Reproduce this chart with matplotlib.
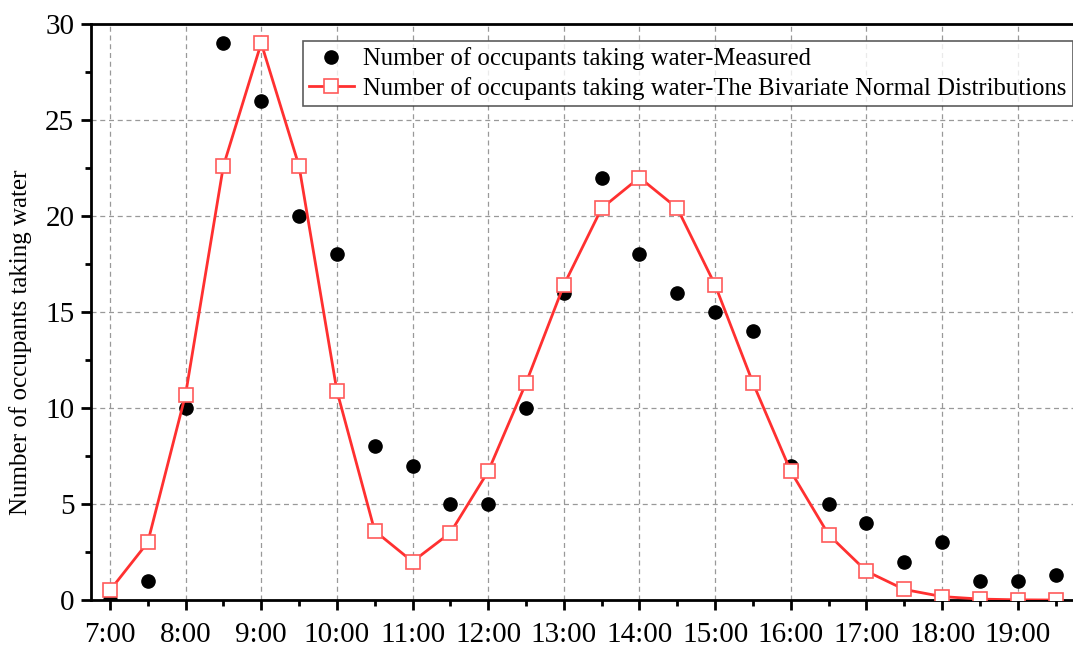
import numpy as np
import matplotlib.pyplot as plt
from matplotlib.ticker import MultipleLocator

plt.rcParams['font.family'] = ['Liberation Serif', 'DejaVu Serif']

# half-hour slots from 7:00 to 19:30, in hours
hours = np.arange(7.0, 19.51, 0.5)
measured = [0, 1, 10, 29, 26, 20, 18, 8, 7, 5, 5, 10, 16, 22, 18, 16, 15, 14,
            7, 5, 4, 2, 3, 1, 1, 1.3]
bivariate = [0.5, 3.0, 10.7, 22.6, 29.0, 22.6, 10.9, 3.6, 2.0, 3.5, 6.7, 11.3,
             16.4, 20.4, 22.0, 20.4, 16.4, 11.3, 6.7, 3.4, 1.5, 0.55, 0.18,
             0.05, 0.01, 0.0]
tick_hours = list(range(7, 20))
tick_labels = ['%d:00' % h for h in tick_hours]

fig = plt.figure(figsize=(10.73, 6.51), dpi=100)
ax = fig.add_axes([0.0848, 0.0783, 0.9152, 0.885])

ax.plot(hours, measured, 'o', color='black', markersize=9.5,
        label='Number of occupants taking water-Measured', zorder=3)
ax.plot(hours, bivariate, '-s', color='#ff3030', lw=2, markersize=10,
        markerfacecolor='white', markeredgecolor='#ff5a5a', markeredgewidth=1.2,
        label='Number of occupants taking water-The Bivariate Normal Distributions',
        zorder=4)

ax.set_xlim(6.75, 19.73)
ax.set_ylim(0, 30)
ax.set_xticks(tick_hours)
ax.set_xticklabels(tick_labels)
ax.xaxis.set_minor_locator(MultipleLocator(0.5))
ax.yaxis.set_major_locator(MultipleLocator(5))
ax.yaxis.set_minor_locator(MultipleLocator(2.5))

ax.tick_params(axis='both', which='major', direction='out', length=7, width=2,
               labelsize=21)
ax.tick_params(axis='both', which='minor', direction='out', length=4, width=2)
ax.tick_params(axis='x', pad=9)
ax.tick_params(axis='y', pad=5)

ax.grid(True, which='major', linestyle=(0, (4, 3)), color='#999999', lw=0.9)
ax.set_axisbelow(True)

for side in ('left', 'bottom', 'top'):
    ax.spines[side].set_linewidth(2)
ax.spines['right'].set_visible(False)

ax.set_ylabel('Number of occupants taking water', fontsize=18)
ax.yaxis.set_label_coords(-0.060, 0.448)

leg = ax.legend(loc='upper right', bbox_to_anchor=(1.0, 0.97), fontsize=17.8,
                frameon=True, fancybox=False, edgecolor='#333333',
                borderpad=0.25, labelspacing=0.25, handlelength=1.8,
                handletextpad=0.4, borderaxespad=0)
leg.get_frame().set_linewidth(1.2)

fig.savefig('out.png', dpi=100)
